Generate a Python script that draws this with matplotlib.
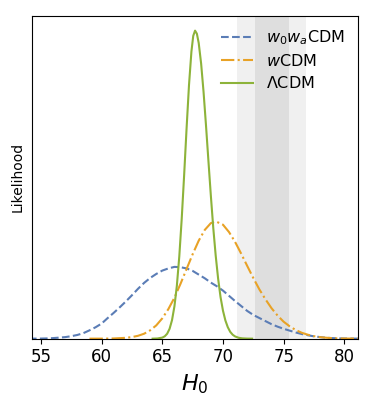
import matplotlib
matplotlib.use("Agg")
import matplotlib.pyplot as plt

# w0waCDM likelihood
h0_w0wa = [54.0, 55.0, 55.5, 56.0, 56.5, 57.0, 57.5, 58.0, 58.5, 59.0, 59.5, 60.0, 60.5,
           61.0, 61.5, 62.0, 62.5, 63.0, 63.5, 64.0, 64.5, 65.0, 65.5, 66.0, 66.5,
           67.0, 67.5, 68.0, 68.5, 69.0, 69.5, 70.0, 70.5, 71.0, 71.5, 72.0, 72.5,
           73.0, 73.5, 74.0, 74.5, 75.0, 75.5, 76.0, 76.5, 77.0, 77.5, 78.0, 78.5,
           79.0, 79.5, 80.0, 81.5]
L_w0wa = [0.0, 0.0003, 0.0008, 0.0018, 0.0033, 0.005, 0.008, 0.012, 0.018, 0.027, 0.037,
          0.049, 0.067, 0.084, 0.102, 0.121, 0.141, 0.162, 0.181, 0.197, 0.210, 0.221,
          0.228, 0.233, 0.232, 0.228, 0.220, 0.208, 0.196, 0.182, 0.170, 0.156, 0.139,
          0.122, 0.106, 0.090, 0.077, 0.067, 0.057, 0.047, 0.039, 0.032, 0.026, 0.020,
          0.015, 0.011, 0.0075, 0.005, 0.003, 0.0018, 0.001, 0.0005, 0.0]

# wCDM likelihood
h0_w = [59.0, 60.0, 61.0, 62.0, 62.5, 63.0, 63.5, 64.0, 64.5, 65.0, 65.5, 66.0, 66.5,
        67.0, 67.5, 68.0, 68.5, 69.0, 69.4, 69.5, 70.0, 70.5, 71.0, 71.5, 72.0, 72.5,
        73.0, 73.5, 74.0, 74.5, 75.0, 75.5, 76.0, 76.5, 77.0, 77.5, 78.0, 78.5,
        79.0, 79.5, 80.0, 81.5]
L_w = [0.0, 0.0001, 0.0006, 0.0027, 0.0051, 0.0093, 0.016, 0.027, 0.043, 0.066, 0.096,
       0.133, 0.178, 0.226, 0.274, 0.318, 0.353, 0.375, 0.380, 0.379, 0.370, 0.346,
       0.314, 0.276, 0.236, 0.197, 0.160, 0.128, 0.099, 0.075, 0.055, 0.040, 0.028,
       0.019, 0.0127, 0.008, 0.0049, 0.003, 0.0017, 0.0009, 0.0004, 0.0]

# LambdaCDM likelihood
h0_lcdm = [64.2, 64.6, 65.0, 65.2, 65.4, 65.6, 65.8, 66.0, 66.2, 66.4, 66.6, 66.8, 67.0,
           67.2, 67.4, 67.55, 67.7, 67.85, 68.0, 68.2, 68.4, 68.6, 68.8, 69.0, 69.2,
           69.4, 69.6, 69.8, 70.0, 70.2, 70.4, 70.6, 70.8, 71.0, 71.3, 71.6, 72.0, 72.4]
L_lcdm = [0.0, 0.0006, 0.0034, 0.0076, 0.016, 0.032, 0.060, 0.105, 0.172, 0.267, 0.389,
          0.531, 0.682, 0.823, 0.932, 0.983, 1.0, 0.990, 0.960, 0.893, 0.801, 0.693,
          0.578, 0.465, 0.360, 0.270, 0.195, 0.135, 0.091, 0.059, 0.037, 0.022, 0.0128,
          0.0072, 0.0028, 0.001, 0.0002, 0.0]

# Local H0 measurement bands
h0_local = 74.03
h0_local_err = 1.42

labels = [r"$w_0w_a$CDM", r"$w$CDM", r"$\Lambda$CDM"]
colors = ["#5b7db6", "#e8a226", "#8db33a"]

fig = plt.figure(figsize=(3.73, 4.09), dpi=100)
ax = fig.add_axes([0.0858, 0.172, 0.873, 0.790])

ax.axvspan(h0_local - 2 * h0_local_err, h0_local + 2 * h0_local_err,
           facecolor="#f0f0f0", edgecolor="none", zorder=0)
ax.axvspan(h0_local - h0_local_err, h0_local + h0_local_err,
           facecolor="#dedede", edgecolor="none", zorder=0)

ax.plot(h0_w0wa, L_w0wa, ls="--", color=colors[0], lw=1.5, label=labels[0])
ax.plot(h0_w, L_w, ls="-.", color=colors[1], lw=1.5, label=labels[1])
ax.plot(h0_lcdm, L_lcdm, ls="-", color=colors[2], lw=1.5, label=labels[2])

ax.set_xlim(54.26, 81.1)
ax.set_ylim(0, 1.049)
ax.set_yticks([])
ax.set_xticks([55, 60, 65, 70, 75, 80])
ax.tick_params(axis="x", labelsize=12)
ax.set_xlabel(r"$H_0$", fontsize=16)
ax.set_ylabel("Likelihood", fontsize=10, labelpad=5)

ax.legend(loc="upper right", frameon=False, fontsize=11.5, handlelength=2.0,
          labelspacing=0.38, borderaxespad=0.3, borderpad=0.5)

fig.savefig("out.png", dpi=100)
